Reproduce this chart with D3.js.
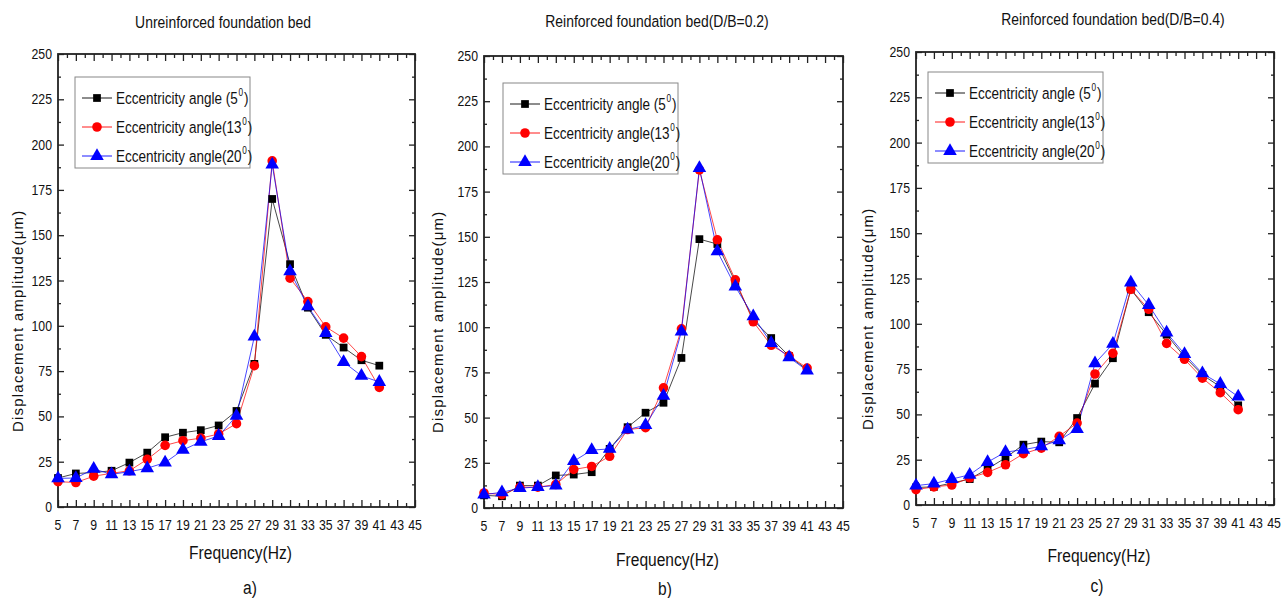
<!DOCTYPE html>
<html>
<head>
<meta charset="utf-8">
<script src="https://cdn.jsdelivr.net/npm/d3@7"></script>
<style>
  body { margin: 0; background: #fff; }
  svg { display: block; }
  text { font-family: "Liberation Sans", Arial, sans-serif; }
</style>
</head>
<body>
<script>
// Частоты (Гц) и значения амплитуды смещения (мкм)
const freq = [5, 7, 9, 11, 13, 15, 17, 19, 21, 23, 25, 27, 29, 31, 33, 35, 37, 39, 41];
const xTicks = d3.range(5, 46, 2);
const yTicks = [0, 25, 50, 75, 100, 125, 150, 175, 200, 225, 250];

// a) Unreinforced
const a5  = [16, 18.5, 19, 20, 24.5, 30, 38.5, 41, 42.4, 45, 53, 79, 170, 134, 110, 95, 88, 81, 78];
const a13 = [14, 13.5, 17, 18.6, 20, 26.3, 34, 36.6, 38, 40.3, 46, 78, 191, 126.3, 113.4, 99.4, 93.2, 83, 66];
const a20 = [15.8, 16, 21, 18, 19.5, 21.4, 24.5, 31.5, 36, 39.2, 50.3, 94, 189, 130, 110.7, 96, 80, 72.4, 69];
// b) D/B = 0.2
const b5  = [7, 6.5, 12.4, 12.4, 18, 18.5, 19.8, 32.7, 44.7, 52.7, 58.2, 83, 148.7, 146, 125, 104, 94, 84, 76.5];
const b13 = [8.3, 7.4, 11.5, 11.5, 13, 21.3, 23, 28.6, 43.4, 44.4, 66.5, 99.1, 187, 148.3, 126.2, 103, 90, 84.2, 77.4];
const b20 = [7.4, 8.7, 11, 11.6, 12.4, 25.9, 32, 32.7, 43.4, 45.8, 62, 97.6, 188, 142, 122.5, 106, 91.2, 83.3, 76];
// c) D/B = 0.4
const c5  = [9.7, 10, 12.1, 14.3, 20, 26, 33.3, 35, 34.6, 48, 67, 81, 119, 106.4, 94, 81.9, 71.8, 65.3, 55];
const c13 = [8.5, 10, 11, 15, 18, 22.2, 28.3, 31.4, 37.9, 45.2, 72.3, 83.7, 119, 108, 89.2, 80.4, 70, 62, 52.6];
const c20 = [10.7, 11.8, 14.3, 16.7, 23.7, 29.2, 30.5, 32.4, 35.7, 41.9, 78.2, 88.9, 122.7, 110.4, 95.1, 83.3, 72.6, 66.8, 59.8];

const seriesNames = ["Eccentricity angle (5", "Eccentricity angle(13", "Eccentricity angle(20"];
const titles = ["Unreinforced foundation bed", "Reinforced foundation bed(D/B=0.2)", "Reinforced foundation bed(D/B=0.4)"];
const captions = ["a)", "b)", "c)"];

const colors = ["#000000", "#ff0000", "#0000ff"];
const shapes = [d3.symbolSquare, d3.symbolCircle, d3.symbolTriangle];
const sizes = [60, 72, 80];
const NARROW = 0.82; // узкий шрифт имитируем сжатием по x

const svg = d3.select("body").append("svg")
  .attr("width", 1288)
  .attr("height", 598);

// Положение каждой панели на странице
const panels = [
  { x0: 58, x1: 415, y0: 54, y1: 507, title: [223, 28], legend: [75, 77], ylab: 18, freqY: 559, capY: 594, capX: 250 },
  { x0: 484, x1: 843, y0: 56, y1: 508, title: [657, 27], legend: [503, 83], ylab: 438, freqY: 566, capY: 595, capX: 665 },
  { x0: 916, x1: 1274, y0: 52, y1: 505, title: [1113, 25], legend: [928, 72], ylab: 868, freqY: 562, capY: 592, capX: 1097 }
];
const data = [[a5, a13, a20], [b5, b13, b20], [c5, c13, c20]];

// Текст узким начертанием
function narrowText(parent, x, y, anchor, size) {
  return parent.append("g")
    .attr("transform", `translate(${x},${y}) scale(${NARROW},1)`)
    .append("text")
    .attr("text-anchor", anchor)
    .attr("font-size", size)
    .attr("fill", "#111");
}

function drawPanel(p, series, i) {
  const x = d3.scaleLinear().domain([5, 45]).range([p.x0, p.x1]);
  const y = d3.scaleLinear().domain([0, 250]).range([p.y1, p.y0]);
  const g = svg.append("g");

  // Оси: тики внутрь
  const minorX = d3.range(6, 45, 2);
  const minorY = d3.range(12.5, 250, 25);
  const ax = (axis, tr) => g.append("g").attr("transform", tr).call(axis)
    .call(s => s.select(".domain").remove())
    .call(s => s.selectAll("line").attr("stroke", "#222").attr("stroke-width", 1.3))
    .call(s => s.selectAll("text").remove());

  ax(d3.axisBottom(x).tickValues(xTicks).tickSize(-7), `translate(0,${p.y1})`);
  ax(d3.axisBottom(x).tickValues(minorX).tickSize(-4), `translate(0,${p.y1})`);
  ax(d3.axisTop(x).tickValues(xTicks).tickSize(-7), `translate(0,${p.y0})`);
  ax(d3.axisTop(x).tickValues(minorX).tickSize(-4), `translate(0,${p.y0})`);
  ax(d3.axisLeft(y).tickValues(yTicks).tickSize(-6), `translate(${p.x0},0)`);
  ax(d3.axisLeft(y).tickValues(minorY).tickSize(-3), `translate(${p.x0},0)`);
  ax(d3.axisRight(y).tickValues(yTicks).tickSize(-6), `translate(${p.x1},0)`);
  ax(d3.axisRight(y).tickValues(minorY).tickSize(-3), `translate(${p.x1},0)`);

  // Подписи тиков
  xTicks.forEach(v => narrowText(g, x(v), p.y1 + 23, "middle", 15).text(v));
  yTicks.forEach(v => narrowText(g, p.x0 - 6, y(v) + 5, "end", 15).text(v));

  g.append("rect")
    .attr("x", p.x0).attr("y", p.y0)
    .attr("width", p.x1 - p.x0).attr("height", p.y1 - p.y0)
    .attr("fill", "none").attr("stroke", "#222").attr("stroke-width", 1.8);

  // Линии и маркеры
  const line = d3.line().x((d, j) => x(freq[j])).y(d => y(d));
  series.forEach((vals, k) => {
    g.append("path").datum(vals)
      .attr("d", line)
      .attr("fill", "none")
      .attr("stroke", colors[k])
      .attr("stroke-opacity", 0.8)
      .attr("stroke-width", 0.9);
  });
  series.forEach((vals, k) => {
    g.selectAll(null).data(vals).enter().append("path")
      .attr("d", d3.symbol().type(shapes[k]).size(sizes[k]))
      .attr("transform", (d, j) => `translate(${x(freq[j])},${y(d)})`)
      .attr("fill", colors[k]);
  });

  // Легенда
  const lg = g.append("g").attr("transform", `translate(${p.legend[0]},${p.legend[1]})`);
  lg.append("rect").attr("width", 175).attr("height", 91)
    .attr("fill", "#fff").attr("stroke", "#888").attr("stroke-width", 1);
  seriesNames.forEach((name, k) => {
    const ry = 21 + k * 29;
    lg.append("line").attr("x1", 7).attr("x2", 37).attr("y1", ry).attr("y2", ry)
      .attr("stroke", colors[k]).attr("stroke-width", 0.9);
    lg.append("path").attr("d", d3.symbol().type(shapes[k]).size(sizes[k]))
      .attr("transform", `translate(22,${ry})`).attr("fill", colors[k]);
    const t = narrowText(lg, 41, ry + 6, "start", 16.5);
    t.append("tspan").text(name);
    t.append("tspan").attr("dx", 1).attr("dy", -8).attr("font-size", 10).text("0");
    t.append("tspan").attr("dx", 1).attr("dy", 8).text(")");
  });

  // Подписи
  narrowText(g, p.title[0], p.title[1], "middle", 17).text(titles[i]);
  g.append("text")
    .attr("transform", `translate(${p.ylab + 5},${p.y1 - 75}) rotate(-90)`)
    .attr("text-anchor", "start")
    .attr("font-size", 15).attr("letter-spacing", 1.2).attr("fill", "#111")
    .text("Displacement amplitude(\u03bcm)");
  narrowText(g, (p.x0 + p.x1) / 2 + 4, p.freqY, "middle", 19).text("Frequency(Hz)");
  narrowText(g, p.capX, p.capY, "middle", 19).text(captions[i]);
}

panels.forEach((p, i) => drawPanel(p, data[i], i));
</script>
</body>
</html>
